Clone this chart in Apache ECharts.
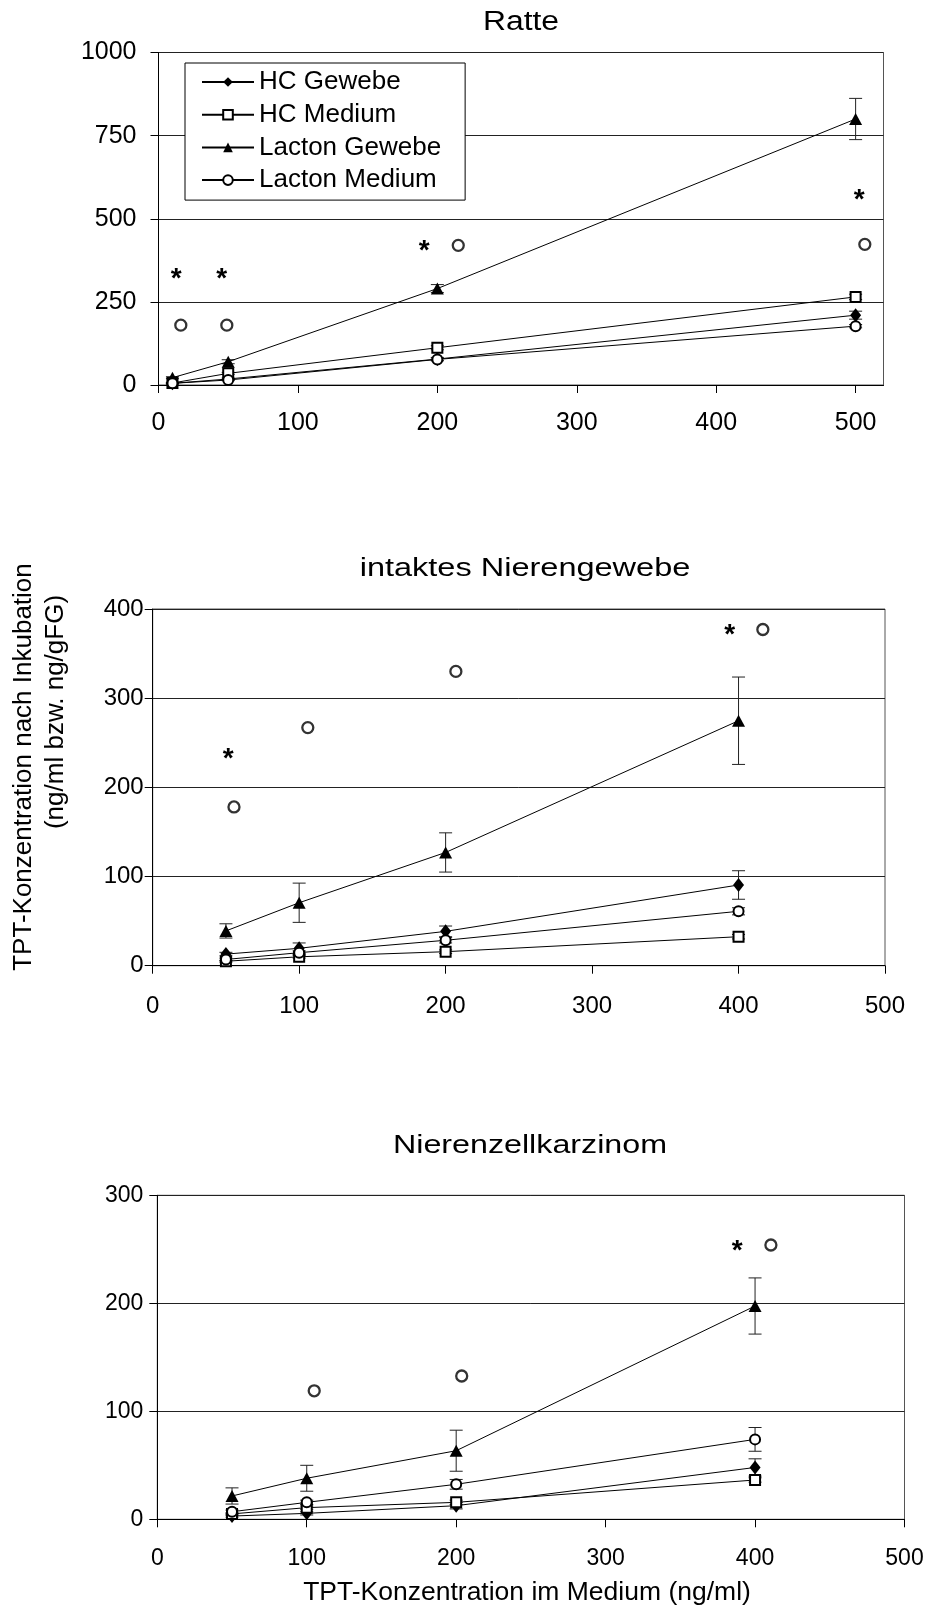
<!DOCTYPE html>
<html>
<head>
<meta charset="utf-8">
<script src="https://cdn.jsdelivr.net/npm/echarts@6/dist/echarts.min.js"></script>
<style>
  html, body { margin: 0; padding: 0; background: #fff; }
  #chart { width: 927px; height: 1606px; }
</style>
</head>
<body>
<div id="chart"></div>
<script>
// ---------------- DATA ----------------
const seriesNames = ['HC Gewebe', 'HC Medium', 'Lacton Gewebe', 'Lacton Medium'];

// Panel 1: Ratte
const ratteTitle = 'Ratte';
const ratteX = [10, 50, 200, 500];
const ratteHCGewebe = [5, 18, 78, 210];
const ratteHCMedium = [6, 35, 112, 265];
const ratteLactonGewebe = [22, 70, 290, 800];
const ratteLactonMedium = [5, 15, 77, 177];
const ratteErrHCGewebe = [2, 3, 5, 12];
const ratteErrHCMedium = [2, 3, 6, 8];
const ratteErrLactonGewebe = [3, 6, 12, 62];
const ratteErrLactonMedium = [1, 2, 4, 5];
const ratteStars = [[12.7, 340], [45.4, 340], [190.5, 423], [502.5, 576]];
const ratteCircles = [[16, 180], [49, 180], [215, 420], [506.6, 423]];
const ratteXTicks = [0, 100, 200, 300, 400, 500];
const ratteYTicks = [0, 250, 500, 750, 1000];

// Panel 2: intaktes Nierengewebe
const niereTitle = 'intaktes Nierengewebe';
const niereX = [50, 100, 200, 400];
const niereHCGewebe = [13, 19.5, 38.5, 90.5];
const niereHCMedium = [5, 10, 15.7, 32.5];
const niereLactonGewebe = [39, 70.6, 127, 274.7];
const niereLactonMedium = [7, 14.6, 28.5, 61];
const niereErrHCGewebe = [2, 6, 6, 16];
const niereErrHCMedium = [1, 1.5, 2, 2.5];
const niereErrLactonGewebe = [8, 22, 22, 49];
const niereErrLactonMedium = [1.5, 2, 3, 4];
const niereStars = [[51.6, 239], [394, 378]];
const niereCircles = [[55.5, 178], [105.9, 267], [207, 330], [416.6, 377]];
const niereXTicks = [0, 100, 200, 300, 400, 500];
const niereYTicks = [0, 100, 200, 300, 400];

// Panel 3: Nierenzellkarzinom
const karzTitle = 'Nierenzellkarzinom';
const karzX = [50, 100, 200, 400];
const karzHCGewebe = [3, 5.5, 12.6, 48];
const karzHCMedium = [5, 10.8, 15.7, 36.4];
const karzLactonGewebe = [21.6, 38, 63.5, 197.5];
const karzLactonMedium = [7, 15.7, 32.4, 74];
const karzErrHCGewebe = [1, 1.5, 3, 8];
const karzErrHCMedium = [1, 1.5, 2, 2];
const karzErrLactonGewebe = [7.5, 12, 19, 26];
const karzErrLactonMedium = [1.5, 2, 4.5, 11];
const karzStars = [[388, 255]];
const karzCircles = [[105, 119], [203.7, 132.7], [410.6, 254]];
const karzXTicks = [0, 100, 200, 300, 400, 500];
const karzYTicks = [0, 100, 200, 300];

const xAxisName = 'TPT-Konzentration im Medium (ng/ml)';
const yAxisNameLine1 = 'TPT-Konzentration nach Inkubation';
const yAxisNameLine2 = '(ng/ml bzw. ng/gFG)';

// ---------------- LAYOUT / STYLE ----------------
const FONT = "'Liberation Sans', Arial, Helvetica, sans-serif";

const panels = [
  { title: ratteTitle, x: ratteX,
    values: [ratteHCGewebe, ratteHCMedium, ratteLactonGewebe, ratteLactonMedium],
    errors: [ratteErrHCGewebe, ratteErrHCMedium, ratteErrLactonGewebe, ratteErrLactonMedium],
    stars: ratteStars, circles: ratteCircles, xTicks: ratteXTicks, yTicks: ratteYTicks,
    grid: { left: 158.5, top: 52.5, width: 725, height: 332.5 }, xMax: 520,
    titlePos: [521, 23], titleFont: 27, titleScale: 1.18,
    tickFont: 25, xMargin: 26, yMargin: 22 },
  { title: niereTitle, x: niereX,
    values: [niereHCGewebe, niereHCMedium, niereLactonGewebe, niereLactonMedium],
    errors: [niereErrHCGewebe, niereErrHCMedium, niereErrLactonGewebe, niereErrLactonMedium],
    stars: niereStars, circles: niereCircles, xTicks: niereXTicks, yTicks: niereYTicks,
    grid: { left: 152.7, top: 609, width: 732.3, height: 356.7 }, xMax: 500,
    titlePos: [525, 569], titleFont: 26, titleScale: 1.25,
    tickFont: 24, xMargin: 29, yMargin: 9 },
  { title: karzTitle, x: karzX,
    values: [karzHCGewebe, karzHCMedium, karzLactonGewebe, karzLactonMedium],
    errors: [karzErrHCGewebe, karzErrHCMedium, karzErrLactonGewebe, karzErrLactonMedium],
    stars: karzStars, circles: karzCircles, xTicks: karzXTicks, yTicks: karzYTicks,
    grid: { left: 157.3, top: 1195.3, width: 747.2, height: 324 }, xMax: 500,
    titlePos: [530, 1146], titleFont: 26, titleScale: 1.24,
    tickFont: 23, xMargin: 28, yMargin: 14 }
];

const markerStyles = [
  { symbol: 'diamond', symbolSize: [11, 14], itemStyle: { color: '#000', borderColor: '#000', borderWidth: 0 } },
  { symbol: 'rect', symbolSize: 10, itemStyle: { color: '#fff', borderColor: '#000', borderWidth: 2 } },
  { symbol: 'triangle', symbolSize: [13, 12], itemStyle: { color: '#000', borderColor: '#000', borderWidth: 0 } },
  { symbol: 'circle', symbolSize: 10, itemStyle: { color: '#fff', borderColor: '#000', borderWidth: 2 } }
];

const grids = [], xAxes = [], yAxes = [], series = [], graphics = [];

panels.forEach((p, i) => {
  grids.push(Object.assign({ show: true, borderColor: '#555', borderWidth: 1, backgroundColor: 'transparent' }, p.grid));
  const yMax = p.yTicks[p.yTicks.length - 1];
  xAxes.push({
    type: 'value', gridIndex: i, min: 0, max: p.xMax, interval: 100,
    axisLine: { show: true, lineStyle: { color: '#000', width: 1 } },
    axisTick: { show: true, inside: false, length: 8, lineStyle: { color: '#000' }, customValues: p.xTicks },
    axisLabel: { customValues: p.xTicks, fontSize: p.tickFont, fontFamily: FONT, color: '#000', margin: p.xMargin,
      formatter: v => String(v) },
    splitLine: { show: false }
  });
  yAxes.push({
    type: 'value', gridIndex: i, min: 0, max: yMax, interval: p.yTicks[1] - p.yTicks[0],
    axisLine: { show: true, onZero: false, lineStyle: { color: '#000', width: 1 } },
    axisTick: { show: true, inside: false, length: 8, lineStyle: { color: '#000' } },
    axisLabel: { fontSize: p.tickFont, fontFamily: FONT, color: '#000', margin: p.yMargin,
      formatter: v => String(v) },
    splitLine: { show: true, lineStyle: { color: '#222', width: 1 } }
  });

  // error bars
  p.errors.forEach((errArr, s) => {
    series.push({
      type: 'custom', name: 'err' + i + '_' + s, xAxisIndex: i, yAxisIndex: i, z: 1,
      silent: true, animation: false,
      data: p.x.map((xv, k) => [xv, p.values[s][k], errArr[k]]),
      encode: { x: 0, y: 1 },
      renderItem: (params, api) => {
        const xv = api.value(0), yv = api.value(1), e = api.value(2);
        const hi = api.coord([xv, yv + e]);
        const lo = api.coord([xv, yv - e]);
        const w = 6.5;
        const st = { stroke: '#222', lineWidth: 1 };
        return { type: 'group', children: [
          { type: 'line', shape: { x1: hi[0], y1: hi[1], x2: lo[0], y2: lo[1] }, style: st },
          { type: 'line', shape: { x1: hi[0] - w, y1: hi[1], x2: hi[0] + w, y2: hi[1] }, style: st },
          { type: 'line', shape: { x1: lo[0] - w, y1: lo[1], x2: lo[0] + w, y2: lo[1] }, style: st }
        ] };
      }
    });
  });

  // lines with markers
  p.values.forEach((vals, s) => {
    const m = markerStyles[s];
    series.push({
      type: 'line', name: seriesNames[s], xAxisIndex: i, yAxisIndex: i, z: 3,
      data: p.x.map((xv, k) => [xv, vals[k]]),
      symbol: m.symbol, symbolSize: m.symbolSize, showSymbol: true,
      itemStyle: m.itemStyle,
      lineStyle: { color: '#000', width: 1 },
      emphasis: { disabled: true }, animation: false
    });
  });

  // significance asterisks
  series.push({
    type: 'custom', name: 'stars' + i, xAxisIndex: i, yAxisIndex: i, z: 4, silent: true,
    data: p.stars, encode: { x: 0, y: 1 },
    renderItem: (params, api) => {
      const c = api.coord([api.value(0), api.value(1)]);
      return { type: 'text', x: c[0], y: c[1] + 7,
        style: { text: '*', font: 'bold 28px ' + FONT, fill: '#000', align: 'center', verticalAlign: 'middle' } };
    }
  });
  // open-circle markers
  series.push({
    type: 'scatter', name: 'circ' + i, xAxisIndex: i, yAxisIndex: i, z: 4, silent: true,
    data: p.circles, symbol: 'circle', symbolSize: 11,
    itemStyle: { color: '#fff', borderColor: '#000', borderWidth: 2.3 }
  });

  graphics.push({ type: 'text', x: p.titlePos[0], y: p.titlePos[1], scaleX: p.titleScale,
    style: { text: p.title, font: p.titleFont + 'px ' + FONT, fill: '#000', align: 'center', verticalAlign: 'middle' } });
});

graphics.push({ type: 'text', x: 527, y: 1593, scaleX: 1.06,
  style: { text: xAxisName, font: '25px ' + FONT, fill: '#000', align: 'center', verticalAlign: 'middle' } });
graphics.push({ type: 'text', x: 24, y: 767, rotation: Math.PI / 2,
  style: { text: yAxisNameLine1, font: '26px ' + FONT, fill: '#000', align: 'center', verticalAlign: 'middle' } });
graphics.push({ type: 'text', x: 56, y: 712, rotation: Math.PI / 2,
  style: { text: yAxisNameLine2, font: '26px ' + FONT, fill: '#000', align: 'center', verticalAlign: 'middle' } });

const option = {
  animation: false,
  backgroundColor: '#fff',
  grid: grids,
  xAxis: xAxes,
  yAxis: yAxes,
  legend: {
    data: seriesNames, orient: 'vertical', left: 185, top: 63,
    padding: [6, 24, 7, 16], itemWidth: 52, itemHeight: 12, itemGap: 6.7,
    borderColor: '#000', borderWidth: 1, backgroundColor: '#fff',
    selectedMode: false,
    textStyle: { fontSize: 26, lineHeight: 25, fontFamily: FONT, color: '#000' }
  },
  series: series,
  graphic: graphics
};

const chart = echarts.init(document.getElementById('chart'), null, { renderer: 'canvas' });
chart.setOption(option);
</script>
</body>
</html>
